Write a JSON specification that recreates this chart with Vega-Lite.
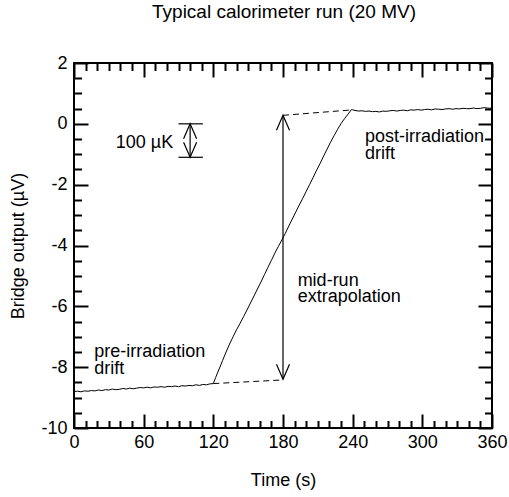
{
  "$schema": "https://vega.github.io/schema/vega-lite/v6.json",
  "width": 418,
  "height": 365,
  "autosize": "none",
  "padding": {"left": 74, "top": 63, "right": 17, "bottom": 69},
  "background": "white",
  "title": {"text": "Typical calorimeter run (20 MV)", "font": "Liberation Sans", "fontSize": 19, "fontWeight": "normal", "color": "black", "anchor": "middle", "baseline": "alphabetic", "offset": 17, "dx": 1},
  "config": {
    "view": {"stroke": "black", "strokeWidth": 2},
    "axis": {"labelFont": "Liberation Sans", "labelFontSize": 18, "labelColor": "black", "titleFont": "Liberation Sans", "titleFontSize": 18, "titleFontWeight": "normal", "titleColor": "black", "tickColor": "black", "tickWidth": 2, "grid": false, "domain": false, "labelFlush": false, "labelOverlap": false},
    "text": {"font": "Liberation Sans", "fontSize": 18, "color": "black"}
  },
  "datasets": {
    "run": [
      {"t":0,"v":-8.80},{"t":3,"v":-8.79},{"t":6,"v":-8.81},{"t":9,"v":-8.78},{"t":12,"v":-8.79},{"t":15,"v":-8.77},{"t":18,"v":-8.78},{"t":21,"v":-8.75},{"t":24,"v":-8.77},{"t":27,"v":-8.74},{"t":30,"v":-8.75},{"t":33,"v":-8.72},{"t":36,"v":-8.74},{"t":39,"v":-8.73},{"t":42,"v":-8.70},{"t":45,"v":-8.72},{"t":48,"v":-8.69},{"t":51,"v":-8.71},{"t":54,"v":-8.69},{"t":57,"v":-8.67},{"t":60,"v":-8.68},{"t":63,"v":-8.66},{"t":66,"v":-8.68},{"t":69,"v":-8.65},{"t":72,"v":-8.66},{"t":75,"v":-8.64},{"t":78,"v":-8.66},{"t":81,"v":-8.63},{"t":84,"v":-8.64},{"t":87,"v":-8.62},{"t":90,"v":-8.64},{"t":93,"v":-8.61},{"t":96,"v":-8.62},{"t":99,"v":-8.60},{"t":102,"v":-8.61},{"t":105,"v":-8.58},{"t":108,"v":-8.60},{"t":111,"v":-8.57},{"t":114,"v":-8.58},{"t":117,"v":-8.55},{"t":120,"v":-8.54},
      {"t":122,"v":-8.34},{"t":125,"v":-8.06},{"t":128,"v":-7.78},{"t":131,"v":-7.50},{"t":134,"v":-7.24},{"t":137,"v":-7.00},{"t":140,"v":-6.77},{"t":143,"v":-6.56},{"t":146,"v":-6.34},{"t":149,"v":-6.12},{"t":152,"v":-5.89},{"t":155,"v":-5.66},{"t":158,"v":-5.43},{"t":161,"v":-5.20},{"t":164,"v":-4.96},{"t":167,"v":-4.72},{"t":170,"v":-4.49},{"t":173,"v":-4.25},{"t":176,"v":-4.03},{"t":179,"v":-3.82},{"t":182,"v":-3.60},{"t":185,"v":-3.36},{"t":188,"v":-3.13},{"t":191,"v":-2.90},{"t":194,"v":-2.67},{"t":197,"v":-2.45},{"t":200,"v":-2.22},{"t":203,"v":-1.99},{"t":206,"v":-1.76},{"t":209,"v":-1.52},{"t":212,"v":-1.30},{"t":215,"v":-1.06},{"t":218,"v":-0.83},{"t":221,"v":-0.60},{"t":224,"v":-0.39},{"t":227,"v":-0.18},{"t":230,"v":0.01},{"t":233,"v":0.17},{"t":236,"v":0.32},{"t":239,"v":0.47},
      {"t":240,"v":0.46},{"t":242,"v":0.44},{"t":245,"v":0.42},{"t":248,"v":0.43},{"t":251,"v":0.41},{"t":254,"v":0.42},{"t":257,"v":0.40},{"t":260,"v":0.41},{"t":263,"v":0.39},{"t":266,"v":0.42},{"t":269,"v":0.41},{"t":272,"v":0.43},{"t":275,"v":0.44},{"t":278,"v":0.42},{"t":281,"v":0.44},{"t":284,"v":0.45},{"t":287,"v":0.43},{"t":290,"v":0.46},{"t":293,"v":0.45},{"t":296,"v":0.47},{"t":299,"v":0.45},{"t":302,"v":0.47},{"t":305,"v":0.48},{"t":308,"v":0.46},{"t":311,"v":0.49},{"t":314,"v":0.48},{"t":317,"v":0.47},{"t":320,"v":0.49},{"t":323,"v":0.50},{"t":326,"v":0.48},{"t":329,"v":0.50},{"t":332,"v":0.49},{"t":335,"v":0.51},{"t":338,"v":0.50},{"t":341,"v":0.50},{"t":344,"v":0.52},{"t":347,"v":0.50},{"t":350,"v":0.51},{"t":353,"v":0.53},{"t":356,"v":0.52},{"t":358,"v":0.51},{"t":360,"v":0.53}
    ],
    "extrap": [
      {"seg":"lower","t":120,"v":-8.54},{"seg":"lower","t":180,"v":-8.42},
      {"seg":"upper","t":180,"v":0.28},{"seg":"upper","t":240,"v":0.46}
    ],
    "shafts": [
      {"t":180,"from":-8.40,"to":0.28},
      {"t":100,"from":-1.1,"to":0}
    ],
    "heads": [
      {"t":180,"v":0.28,"end":"up"},{"t":180,"v":-8.40,"end":"down"},
      {"t":100,"v":0,"end":"up"},{"t":100,"v":-1.1,"end":"down"}
    ],
    "bars": [
      {"t1":90,"t2":111,"v":0},{"t1":90,"t2":111,"v":-1.1}
    ],
    "labels": [
      {"t":36,"v":-0.80,"text":"100 µK"},
      {"t":17.5,"v":-7.66,"text":"pre-irradiation"},
      {"t":17.5,"v":-8.23,"text":"drift"},
      {"t":250.6,"v":-0.59,"text":"post-irradiation"},
      {"t":250.6,"v":-1.17,"text":"drift"},
      {"t":192.6,"v":-5.34,"text":"mid-run"},
      {"t":192.6,"v":-5.85,"text":"extrapolation"}
    ]
  },
  "resolve": {"axis": {"x": "independent", "y": "independent"}},
  "layer": [
    {
      "data": {"name": "run"},
      "mark": {"type": "line", "color": "black", "strokeWidth": 1},
      "encoding": {
        "x": {"field": "t", "type": "quantitative", "scale": {"domain": [0, 360], "nice": false, "zero": false},
              "axis": {"orient": "bottom", "values": [0, 60, 120, 180, 240, 300, 360], "ticks": false, "labelPadding": 5, "title": "Time (s)", "titlePadding": 20}},
        "y": {"field": "v", "type": "quantitative", "scale": {"domain": [-10, 2], "nice": false, "zero": false},
              "axis": {"orient": "left", "values": [-10, -8, -6, -4, -2, 0, 2], "ticks": false, "labelPadding": 7, "labelExpr": "datum.value < 0 ? '-' + abs(datum.value) : '' + datum.value", "title": "Bridge output (µV)", "titlePadding": 13}}
      }
    },
    {
      "data": {"name": "extrap"},
      "mark": {"type": "line", "color": "black", "strokeWidth": 1, "strokeDash": [6, 4]},
      "encoding": {
        "detail": {"field": "seg", "type": "nominal"},
        "x": {"field": "t", "type": "quantitative", "scale": {"domain": [0, 360], "nice": false, "zero": false},
              "axis": {"orient": "bottom", "values": [0, 60, 120, 180, 240, 300, 360], "tickSize": -14, "labels": false, "title": null}},
        "y": {"field": "v", "type": "quantitative", "scale": {"domain": [-10, 2], "nice": false, "zero": false},
              "axis": {"orient": "left", "values": [-10, -8, -6, -4, -2, 0, 2], "tickSize": -14, "labels": false, "title": null}}
      }
    },
    {
      "data": {"name": "shafts"},
      "mark": {"type": "rule", "color": "black", "strokeWidth": 1.2},
      "encoding": {
        "x": {"field": "t", "type": "quantitative", "scale": {"domain": [0, 360], "nice": false, "zero": false},
              "axis": {"orient": "bottom", "values": [10,20,30,40,50,70,80,90,100,110,130,140,150,160,170,190,200,210,220,230,250,260,270,280,290,310,320,330,340,350], "tickSize": -7.5, "labels": false, "title": null}},
        "y": {"field": "from", "type": "quantitative", "scale": {"domain": [-10, 2], "nice": false, "zero": false},
              "axis": {"orient": "left", "values": [-9.5,-9,-8.5,-7.5,-7,-6.5,-5.5,-5,-4.5,-3.5,-3,-2.5,-1.5,-1,-0.5,0.5,1,1.5], "tickSize": -7.5, "labels": false, "title": null}},
        "y2": {"field": "to"}
      }
    },
    {
      "data": {"name": "heads"},
      "mark": {"type": "point", "filled": false, "color": "black", "strokeWidth": 1.2, "opacity": 1, "size": 225},
      "encoding": {
        "shape": {"field": "end", "type": "nominal", "scale": {"domain": ["up", "down"], "range": ["M-0.87,2L0,0L0.87,2", "M-0.87,-2L0,0L0.87,-2"]}, "legend": null},
        "x": {"field": "t", "type": "quantitative", "scale": {"domain": [0, 360], "nice": false, "zero": false},
              "axis": {"orient": "top", "values": [0, 60, 120, 180, 240, 300, 360], "tickSize": -14, "labels": false, "title": null}},
        "y": {"field": "v", "type": "quantitative", "scale": {"domain": [-10, 2], "nice": false, "zero": false},
              "axis": {"orient": "right", "values": [-10, -8, -6, -4, -2, 0, 2], "tickSize": -14, "labels": false, "title": null}}
      }
    },
    {
      "data": {"name": "bars"},
      "mark": {"type": "rule", "color": "black", "strokeWidth": 1.2},
      "encoding": {
        "x": {"field": "t1", "type": "quantitative", "scale": {"domain": [0, 360], "nice": false, "zero": false},
              "axis": {"orient": "top", "values": [10,20,30,40,50,70,80,90,100,110,130,140,150,160,170,190,200,210,220,230,250,260,270,280,290,310,320,330,340,350], "tickSize": -7.5, "labels": false, "title": null}},
        "x2": {"field": "t2"},
        "y": {"field": "v", "type": "quantitative", "scale": {"domain": [-10, 2], "nice": false, "zero": false},
              "axis": {"orient": "right", "values": [-9.5,-9,-8.5,-7.5,-7,-6.5,-5.5,-5,-4.5,-3.5,-3,-2.5,-1.5,-1,-0.5,0.5,1,1.5], "tickSize": -7.5, "labels": false, "title": null}}
      }
    },
    {
      "data": {"name": "labels"},
      "mark": {"type": "text", "align": "left", "baseline": "alphabetic", "font": "Liberation Sans", "fontSize": 18, "color": "black"},
      "encoding": {
        "x": {"field": "t", "type": "quantitative", "scale": {"domain": [0, 360], "nice": false, "zero": false}, "axis": null},
        "y": {"field": "v", "type": "quantitative", "scale": {"domain": [-10, 2], "nice": false, "zero": false}, "axis": null},
        "text": {"field": "text", "type": "nominal"}
      }
    }
  ]
}
